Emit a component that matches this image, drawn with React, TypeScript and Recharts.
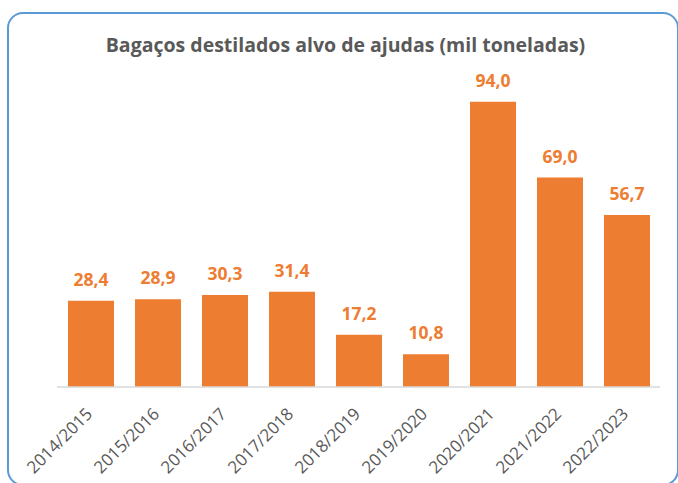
import React from "react";
import { BarChart, Bar, XAxis, YAxis, LabelList } from "recharts";

const campaigns = [
  "2014/2015",
  "2015/2016",
  "2016/2017",
  "2017/2018",
  "2018/2019",
  "2019/2020",
  "2020/2021",
  "2021/2022",
  "2022/2023",
];
const tonnes = [28.4, 28.9, 30.3, 31.4, 17.2, 10.8, 94.0, 69.0, 56.7];

const data = campaigns.map((name, i) => ({ name, value: tonnes[i] }));

const orange = "#ED7D31";
const gray = "#595959";
const font = "'Open Sans', 'Noto Sans', sans-serif";

// rotated category label, anchored at its end
const AngledTick = (props: any) => {
  const { x, y, payload } = props;
  return (
    <g transform={`translate(${x + 3},${y + 20})`}>
      <text
        textAnchor="end"
        transform="rotate(-45)"
        fill={gray}
        fontSize={17}
        fontFamily={font}
      >
        {payload.value}
      </text>
    </g>
  );
};

const fmt = (v: any) => Number(v).toFixed(1).replace(".", ",");

export default function App() {
  return (
    <div
      style={{
        position: "absolute",
        left: 0,
        top: 0,
        width: 678,
        height: 483,
        overflow: "hidden",
        background: "#fff",
      }}
    >
      {/* moldura */}
      <div
        style={{
          position: "absolute",
          left: 7,
          top: 12,
          width: 672,
          height: 474,
          boxSizing: "border-box",
          border: "2px solid #5B9BD5",
          borderRadius: 16,
        }}
      />
      {/* título */}
      <div
        style={{
          position: "absolute",
          left: 0,
          top: 31,
          width: 691,
          textAlign: "center",
          fontFamily: font,
          fontWeight: 700,
          fontSize: 19.5,
          color: gray,
          lineHeight: "28px",
        }}
      >
        Bagaços destilados alvo de ajudas (mil toneladas)
      </div>
      <div style={{ position: "absolute", left: 0, top: 0 }}>
        <BarChart
          width={678}
          height={483}
          data={data}
          margin={{ top: 83.5, right: 18, bottom: 6, left: 57 }}
        >
          <XAxis
            dataKey="name"
            height={90}
            interval={0}
            tickLine={false}
            axisLine={{ stroke: "#D9D9D9", strokeWidth: 1.5 }}
            tick={<AngledTick />}
          />
          <YAxis hide domain={[0, 100]} />
          <Bar dataKey="value" fill={orange} barSize={46} isAnimationActive={false}>
            <LabelList
              dataKey="value"
              position="top"
              offset={15}
              formatter={fmt}
              fill={orange}
              fontSize={17.5}
              fontWeight={700}
              fontFamily={font}
            />
          </Bar>
        </BarChart>
      </div>
    </div>
  );
}
